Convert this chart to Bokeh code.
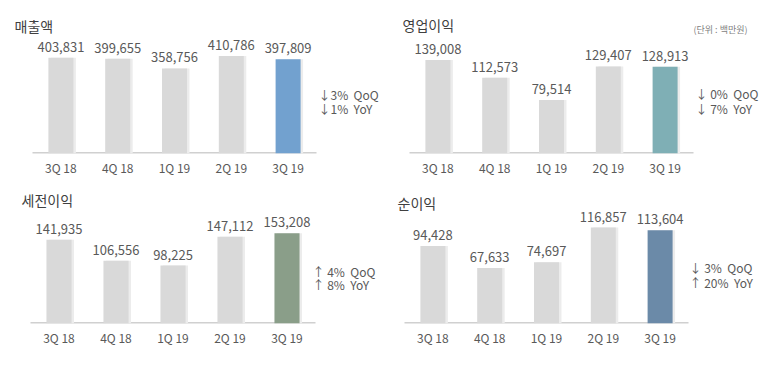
from bokeh.plotting import figure
from bokeh.models import ColumnDataSource, Label, Range1d, FixedTicker
from bokeh.layouts import gridplot
from bokeh.transform import dodge
from bokeh.core.properties import value
from bokeh.embed import file_html
from bokeh.resources import INLINE

quarters = ["3Q 18", "4Q 18", "1Q 19", "2Q 19", "3Q 19"]

revenue = [403831, 399655, 358756, 410786, 397809]
op_income = [139008, 112573, 79514, 129407, 128913]
pretax_income = [141935, 106556, 98225, 147112, 153208]
net_income = [94428, 67633, 74697, 116857, 113604]

titles = ["매출액", "영업이익", "세전이익", "순이익"]
changes = [
    ["↓3%\u00a0 QoQ", "↓1%\u00a0 YoY"],
    ["↓ 0%\u00a0 QoQ", "↓ 7%\u00a0 YoY"],
    ["↑ 4%\u00a0 QoQ", "↑ 8%\u00a0 YoY"],
    ["↓ 3%\u00a0 QoQ", "↑ 20%\u00a0 YoY"],
]
unit_text = "(단위 : 백만원)"

highlight = ["#72a1cf", "#7fafb5", "#8a9e89", "#6b8aa8"]
GRAY = "#d9d9d9"
SHADOW = "#ececec"
TXT = "#595959"
FONT = "Noto Sans CJK KR"

# panel geometry (figure pixels): size, axis span, baseline, y-range end, text anchors
panels = [
    dict(w=390, h=185, ax0=32, ax1=316, base=153, yend=645000,
         title=(14, 25), chg=(318, 94, 108)),
    dict(w=375, h=185, ax0=19, ax1=303, base=153, yend=227340,
         title=(12, 24), chg=(305, 93, 108), unit=(303, 29)),
    dict(w=390, h=174, ax0=30, ax1=315, base=142, yend=234130,
         title=(21, 15), chg=(312, 89, 102)),
    dict(w=375, h=174, ax0=14, ax1=298, base=138, yend=168090,
         title=(7, 17), chg=(299, 82, 97)),
]
series = [revenue, op_income, pretax_income, net_income]
n = len(quarters)
idx = list(range(n))

figs = []
for i, (vals, cfg) in enumerate(zip(series, panels)):
    ppu = (cfg["ax1"] - cfg["ax0"]) / n          # pixels per category
    x0 = -0.5 - cfg["ax0"] / ppu
    x1 = x0 + cfg["w"] / ppu
    frame_h = cfg["base"]
    ppy = cfg["yend"] / frame_h                  # data units per pixel

    def dx(px):
        return x0 + px / ppu

    def dy(py):
        return (frame_h - py) * ppy

    colors = [GRAY] * (n - 1) + [highlight[i]]
    labels = [f"{v:,}" for v in vals]
    src = ColumnDataSource(dict(x=idx, v=vals, c=colors, t=labels))

    p = figure(x_range=Range1d(x0, x1), y_range=Range1d(0, cfg["yend"]),
               width=cfg["w"], height=cfg["h"],
               output_backend="svg", toolbar_location=None,
               min_border_left=0, min_border_right=0,
               min_border_top=0, min_border_bottom=cfg["h"] - cfg["base"])
    p.outline_line_color = None
    p.grid.visible = False
    p.yaxis.visible = False
    ax = p.xaxis[0]
    ax.ticker = FixedTicker(ticks=idx)
    ax.major_label_overrides = {k: q for k, q in zip(idx, quarters)}
    ax.axis_line_color = None
    ax.major_tick_line_color = None
    ax.minor_tick_line_color = None
    ax.major_tick_out = 0
    ax.major_tick_in = 0
    ax.major_label_text_font = FONT
    ax.major_label_text_font_size = "12px"
    ax.major_label_text_color = TXT
    ax.major_label_standoff = 5

    p.segment(x0=[-0.5], x1=[n - 0.5], y0=[0], y1=[0],
              line_color="#d0d0d0", line_width=3)
    p.vbar(x=dodge("x", 2.5 / ppu), top="v", width=0.44,
           source=src, fill_color=SHADOW, line_color=None)
    p.vbar(x="x", top="v", width=0.44, source=src, fill_color="c", line_color=None)
    p.text(x="x", y="v", text="t", source=src, text_align="center",
           text_baseline="bottom", y_offset=-6,
           text_font=value(FONT), text_font_size="13px", text_color=TXT)

    tx, ty = cfg["title"]
    p.add_layout(Label(x=dx(tx), y=dy(ty), text=titles[i], text_font=FONT,
                       text_font_size="14px", text_color="#404040",
                       text_baseline="middle"))
    cx, cy1, cy2 = cfg["chg"]
    for line, cy in zip(changes[i], (cy1, cy2)):
        p.add_layout(Label(x=dx(cx), y=dy(cy), text=line, text_font=FONT,
                           text_font_size="12px", text_color=TXT,
                           text_baseline="middle"))
    if "unit" in cfg:
        ux, uy = cfg["unit"]
        p.add_layout(Label(x=dx(ux), y=dy(uy), text=unit_text, text_font=FONT,
                           text_font_size="9px", text_color="#7f7f7f",
                           text_baseline="middle"))
    figs.append(p)

grid = gridplot([[figs[0], figs[1]], [figs[2], figs[3]]], toolbar_location=None)

open("out.html", "w").write(file_html(grid, INLINE))
